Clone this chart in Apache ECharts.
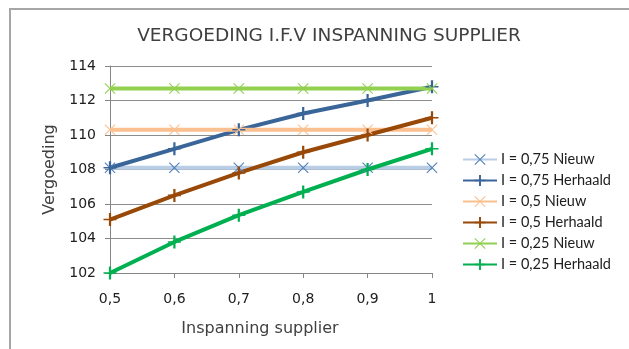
<!DOCTYPE html>
<html>
<head>
<meta charset="utf-8">
<script src="https://cdn.jsdelivr.net/npm/echarts@6/dist/echarts.min.js"></script>
<style>html,body{margin:0;padding:0;background:#fff}#c{width:629px;height:349px}</style>
</head>
<body>
<div id="c"></div>
<script>
var categories = ['0,5','0,6','0,7','0,8','0,9','1'];
var i075Nieuw    = [108.1,108.1,108.1,108.1,108.1,108.1];
var i075Herhaald = [108.1,109.2,110.3,111.25,112.0,112.8];
var i05Nieuw     = [110.3,110.3,110.3,110.3,110.3,110.3];
var i05Herhaald  = [105.1,106.5,107.8,109.0,110.0,111.0];
var i025Nieuw    = [112.7,112.7,112.7,112.7,112.7,112.7];
var i025Herhaald = [102.0,103.8,105.35,106.7,108.0,109.2];
var yTicks = [102,104,106,108,110,112,114];

var X = 'path://M0.7,0L5,4.3L9.3,0L10,0.7L5.7,5L10,9.3L9.3,10L5,5.7L0.7,10L0,9.3L4.3,5L0,0.7Z';
var P = 'path://M4.4,0H5.6V10H4.4ZM1.5,4.4H8.5V5.6H1.5Z';

function s(name, data, lineColor, markColor, sym) {
  return {
    name: name, type: 'line', data: data, symbol: sym,
    symbolSize: sym === X ? 11 : 13,
    showAllSymbol: true,
    lineStyle: {color: lineColor, width: 4},
    itemStyle: {color: markColor},
    emphasis: {disabled: true},
    z: 3
  };
}

var chart = echarts.init(document.getElementById('c'), null, {renderer: 'canvas'});
chart.setOption({
  animation: false,
  backgroundColor: '#fff',
  graphic: [{type: 'rect', shape: {x: 10, y: 9, width: 700, height: 400},
    style: {fill: 'none', stroke: '#a6a6a6', lineWidth: 2}, silent: true}],
  title: {text: 'VERGOEDING I.F.V INSPANNING SUPPLIER', left: 324, textAlign: 'center', top: 22,
    textStyle: {fontFamily: 'DejaVu Sans', fontWeight: 'normal', fontSize: 18.5, color: '#404040'}},
  grid: {left: 110, right: 197, top: 66, bottom: 76},
  xAxis: {
    type: 'category', data: categories, boundaryGap: false,
    name: 'Inspanning supplier', nameLocation: 'middle', nameGap: 48,
    nameTextStyle: {fontFamily: 'DejaVu Sans', fontSize: 16, color: '#404040', padding: [0, 22, 0, 0]},
    axisLine: {lineStyle: {color: '#868686'}},
    axisTick: {show: true, length: 5, lineStyle: {color: '#868686'}},
    axisLabel: {fontFamily: 'DejaVu Sans', fontSize: 14, color: '#202020', margin: 19},
    splitLine: {show: false}
  },
  yAxis: {
    type: 'value', min: 102, max: 114, interval: 2,
    name: 'Vergoeding', nameLocation: 'middle', nameGap: 52,
    nameTextStyle: {fontFamily: 'DejaVu Sans', fontSize: 16, color: '#404040'},
    axisLine: {show: true, lineStyle: {color: '#868686'}},
    axisTick: {show: true, length: 5, lineStyle: {color: '#868686'}},
    axisLabel: {fontFamily: 'DejaVu Sans', fontSize: 14, color: '#202020', margin: 14,
      formatter: function (v) { return yTicks.indexOf(v) >= 0 ? String(v) : ''; }},
    splitLine: {lineStyle: {color: '#8c8c8c', width: 1}}
  },
  legend: {
    orient: 'vertical', left: 457, top: 147, itemGap: 6, itemWidth: 34, itemHeight: 14,
    textStyle: {fontFamily: 'Lato', fontSize: 14.5, color: '#202020', padding: [0, 0, 0, -1]},
    data: ['I = 0,75 Nieuw','I = 0,75 Herhaald','I = 0,5 Nieuw','I = 0,5 Herhaald','I = 0,25 Nieuw','I = 0,25 Herhaald']
  },
  series: [
    s('I = 0,75 Nieuw', i075Nieuw, '#b9cde5', '#4f81bd', X),
    s('I = 0,75 Herhaald', i075Herhaald, '#3a6598', '#3a6598', P),
    s('I = 0,5 Nieuw', i05Nieuw, '#fac090', '#fac090', X),
    s('I = 0,5 Herhaald', i05Herhaald, '#984807', '#984807', P),
    s('I = 0,25 Nieuw', i025Nieuw, '#92d050', '#92d050', X),
    s('I = 0,25 Herhaald', i025Herhaald, '#00b050', '#00b050', P)
  ]
});
</script>
</body>
</html>
